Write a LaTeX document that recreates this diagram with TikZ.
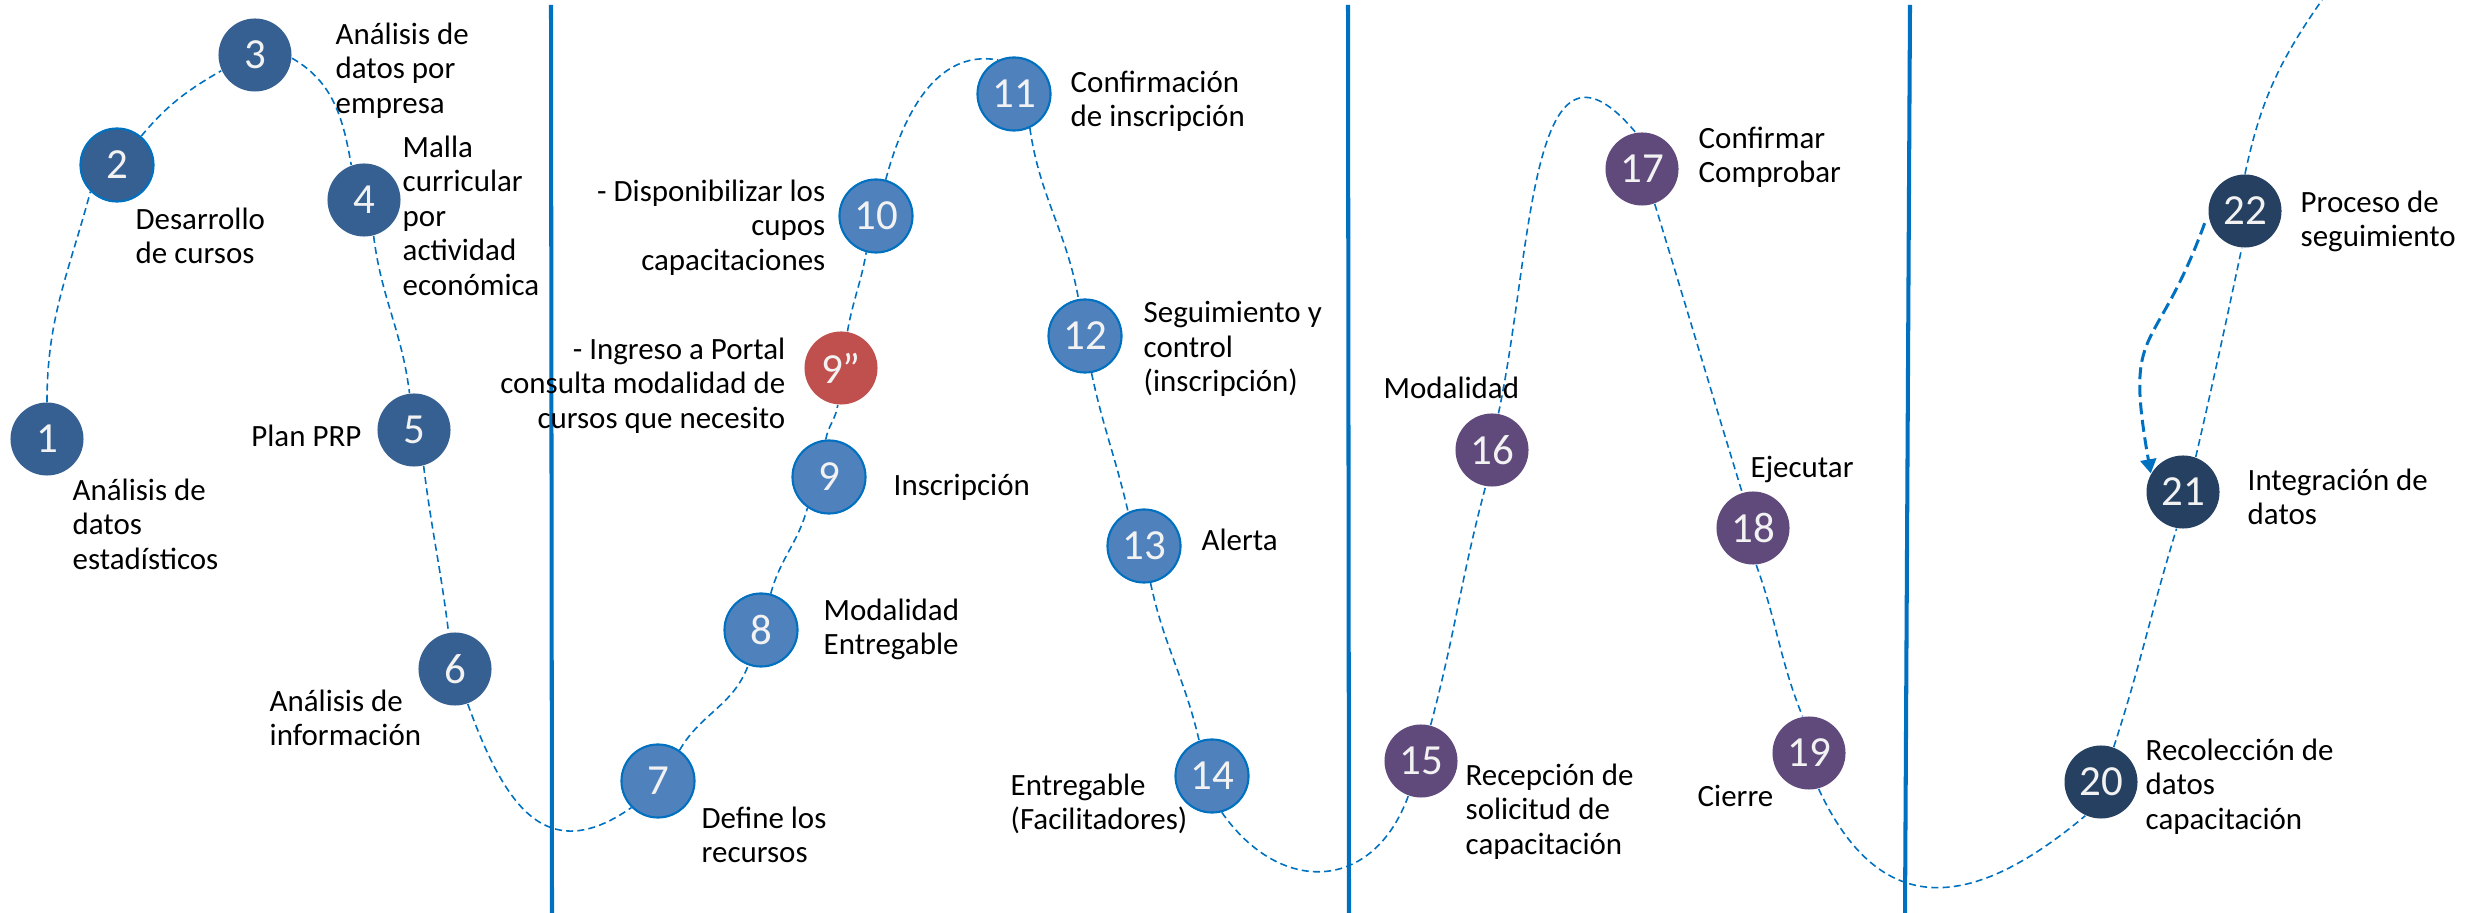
\documentclass[tikz,border=0pt]{standalone}
\usepackage{fontspec}
\setmainfont{Carlito}
\usetikzlibrary{arrows.meta}
\definecolor{azulA}{HTML}{376092}
\definecolor{azulB}{HTML}{4F81BD}
\definecolor{rojo}{HTML}{C0504D}
\definecolor{morado}{HTML}{604A7B}
\definecolor{marino}{HTML}{264061}
\definecolor{linea}{HTML}{0070C0}

\begin{document}
\begin{tikzpicture}[x=0.01cm, y=0.01cm,
    paso/.style={circle, minimum size=0.73cm, inner sep=0pt, text=white!95!black, font=\fontsize{12.2}{14}\selectfont},
    faseA/.style={paso, fill=azulA},
    faseB/.style={paso, fill=azulB, draw=linea, line width=0.6pt},
    faseC/.style={paso, fill=morado},
    faseD/.style={paso, fill=marino},
    etiq/.style={inner sep=0pt, align=left, font=\fontsize{8.8}{9.8}\selectfont},
    ruta/.style={draw=linea, line width=0.45pt, dash pattern=on 2pt off 1.2pt},
    flecha/.style={draw=linea, line width=0.85pt, dash pattern=on 3.4pt off 1.6pt, -{Triangle[length=4pt, width=4.5pt]}},
    limite/.style={draw=linea, line width=1.15pt}]
    \useasboundingbox (0,0) rectangle (2466,-913);

    \draw[limite] (551,-5) -- (552,-913);
    \draw[limite] (1348,-5) -- (1349,-913);
    \draw[limite] (1910,-5) -- (1905,-913);

    \node[faseA] (p1) at (47,-439) {1};
    \node[faseA, draw=linea, line width=0.6pt] (p2) at (117,-165) {2};
    \node[faseA] (p3) at (255,-55) {3};
    \node[faseA] (p4) at (364,-200) {4};
    \node[faseA] (p5) at (414,-430) {5};
    \node[faseA] (p6) at (455,-669) {6};
    \node[faseB] (p7) at (658,-781) {7};
    \node[faseB] (p8) at (761,-630) {8};
    \node[faseB] (p9) at (829,-477) {9};
    \node[paso, fill=rojo] (p9b) at (841,-368) {9”};
    \node[faseB] (p10) at (876,-216) {10};
    \node[faseB] (p11) at (1014,-94) {11};
    \node[faseB] (p12) at (1085,-336) {12};
    \node[faseB] (p13) at (1144,-546) {13};
    \node[faseB] (p14) at (1212,-776) {14};
    \node[faseC] (p15) at (1421,-761) {15};
    \node[faseC] (p16) at (1492,-450) {16};
    \node[faseC] (p17) at (1642,-169) {17};
    \node[faseC] (p18) at (1753,-528) {18};
    \node[faseC] (p19) at (1809,-753) {19};
    \node[faseD] (p20) at (2101,-782) {20};
    \node[faseD] (p21) at (2183,-492) {21};
    \node[faseD] (p22) at (2245,-211) {22};
    \coordinate (fin) at (2322,0);

    \node[etiq, anchor=north west] (t1) at (72,-478) {Análisis de\\datos\\estadísticos};
    \node[etiq, anchor=north west] (t2) at (135,-207) {Desarrollo\\de cursos};
    \node[etiq, anchor=north west] (t3) at (335,-22) {Análisis de\\datos por\\empresa};
    \node[etiq, anchor=north west] (t4) at (402,-135) {Malla\\curricular\\por\\actividad\\económica};
    \node[etiq, anchor=base east] (t5) at (362,-447) {Plan PRP};
    \node[etiq, anchor=north west] (t6) at (269,-689) {Análisis de\\información};
    \node[etiq, anchor=north west] (t7) at (701,-806) {Define los\\recursos};
    \node[etiq, anchor=north west] (t8) at (823,-598) {Modalidad\\Entregable};
    \node[etiq, anchor=base west] (t9) at (893,-496) {Inscripción};
    \node[etiq, align=right, anchor=north east] (t9b) at (786,-337) {- Ingreso a Portal\\consulta modalidad de\\cursos que necesito};
    \node[etiq, align=right, anchor=north east] (t10) at (826,-179) {- Disponibilizar los\\cupos\\capacitaciones};
    \node[etiq, anchor=north west] (t11) at (1070,-70) {Confirmación\\de inscripción};
    \node[etiq, anchor=north west] (t12) at (1143,-301) {Seguimiento y\\control\\(inscripción)};
    \node[etiq, anchor=base west] (t13) at (1201,-551) {Alerta};
    \node[etiq, anchor=north west] (t14) at (1010,-773) {Entregable\\(Facilitadores)};
    \node[etiq, anchor=north west] (t15) at (1465,-763) {Recepción de\\solicitud de\\capacitación};
    \node[etiq, anchor=base west] (t16) at (1383,-399) {Modalidad};
    \node[etiq, anchor=north west] (t17) at (1698,-126) {Confirmar\\Comprobar};
    \node[etiq, anchor=base west] (t18) at (1750,-478) {Ejecutar};
    \node[etiq, anchor=base west] (t19) at (1697,-807) {Cierre};
    \node[etiq, anchor=north west] (t20) at (2145,-738) {Recolección de\\datos\\capacitación};
    \node[etiq, anchor=north west] (t21) at (2247,-468) {Integración de\\datos};
    \node[etiq, anchor=north west] (t22) at (2300,-190) {Proceso de\\seguimiento};

    \draw[ruta] (p1.north) to[out=90, in=255] (p2.225);
    \draw[ruta] (p2.50) to[out=50, in=210] (p3.205);
    \draw[ruta] (p3.-5) to[out=-30, in=100] (p4.110);
    \draw[ruta] (p4.-75) to[out=-83, in=97] (p5.97);
    \draw[ruta] (p5.-75) to[out=-83, in=97] (p6.100);
    \draw[ruta] (p6.-70) to[out=-70, in=215, looseness=1.4] (p7.225);
    \draw[ruta] (p7.55) to[out=60, in=250] (p8.250);
    \draw[ruta] (p8.75) to[out=75, in=255] (p9.235);
    \draw[ruta] (p9.95) to[out=80, in=262] (p9b.265);
    \draw[ruta] (p9b.80) to[out=80, in=260] (p10.255);
    \draw[ruta] (p10.75) to[out=75, in=170] (p11.115);
    \draw[ruta] (p11.-65) to[out=-82, in=100] (p12.100);
    \draw[ruta] (p12.-80) to[out=-78, in=103] (p13.115);
    \draw[ruta] (p13.-80) to[out=-78, in=103] (p14.110);
    \draw[ruta] (p14.-75) to[out=-55, in=250, looseness=1.4] (p15.250);
    \draw[ruta] (p15.75) to[out=75, in=255] (p16.260);
    \draw[ruta] (p16.80) to[out=78, in=130, looseness=1.35] (p17.100);
    \draw[ruta] (p17.-70) to[out=-73, in=107] (p18.107);
    \draw[ruta] (p18.-85) to[out=-70, in=112] (p19.100);
    \draw[ruta] (p19.-75) to[out=-65, in=220, looseness=1.4] (p20.245);
    \draw[ruta] (p20.70) to[out=72, in=253] (p21.260);
    \draw[ruta] (p21.70) to[out=77, in=258] (p22.265);
    \draw[ruta] (p22.90) to[out=78, in=235] (fin);
    \draw[flecha, shorten <=2.7pt] (p22.185) to[out=250, in=100, looseness=1.5] (p21.150);
\end{tikzpicture}
\end{document}
